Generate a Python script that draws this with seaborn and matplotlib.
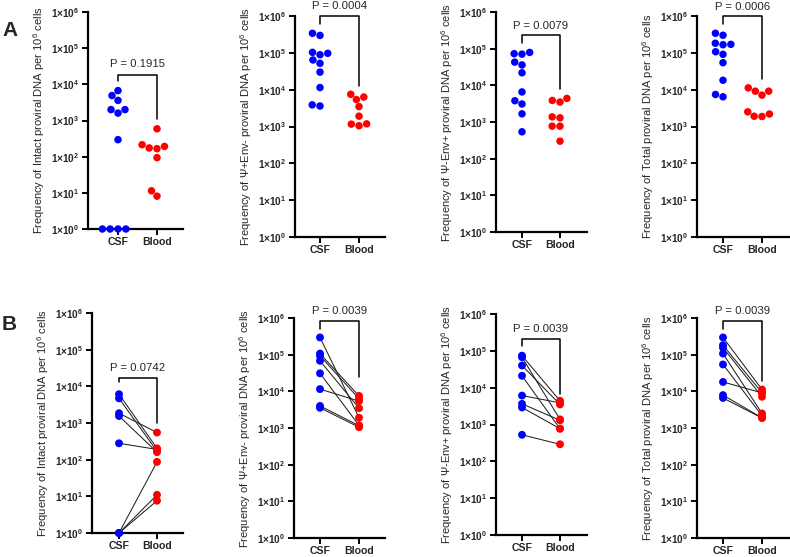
import numpy as np
import pandas as pd
import matplotlib
matplotlib.use("Agg")
import matplotlib.pyplot as plt
import seaborn as sns

sns.set_style("ticks")
plt.rcParams['font.family'] = ['Liberation Sans', 'DejaVu Sans']
plt.rcParams['mathtext.fontset'] = 'custom'
plt.rcParams['mathtext.rm'] = 'Liberation Sans'
plt.rcParams['mathtext.it'] = 'Liberation Sans:italic'
plt.rcParams['mathtext.bf'] = 'Liberation Sans:bold'

# ---------------- data ----------------
groups = ["CSF", "Blood"]
palette = {"CSF": "#0000FF", "Blood": "#FF0000"}
measures = ["Intact", "\u03a8+Env-", "\u03a8-Env+", "Total"]
ytick_exps = [0, 1, 2, 3, 4, 5, 6]

# Row A (unpaired)
a_csf_intact = [6700, 4900, 3600, 2000, 2000, 1600, 295, 1, 1, 1, 1]
a_csf_psi_pos = [339000, 297000, 89000, 97000, 103000, 64000, 52000, 30000, 11400, 3600, 3870]
a_csf_env_pos = [71000, 73000, 79000, 36000, 43000, 22000, 6600, 3800, 3100, 1670, 540]
a_csf_total = [300000, 340000, 166000, 170000, 182000, 91000, 107000, 54000, 18000, 6400, 7400]

a_blood_intact = [590, 214, 174, 166, 192, 94, 11.4, 8.1]
a_blood_psi_pos = [7500, 5400, 6300, 3470, 1910, 1050, 1180, 1160]
a_blood_env_pos = [4400, 3500, 3870, 1380, 1300, 770, 770, 300]
a_blood_total = [9100, 11200, 9100, 7100, 1870, 2500, 1900, 2180]

a_pvals = ["P = 0.1915", "P = 0.0004", "P = 0.0079", "P = 0.0006"]

# Row B (paired)
b_csf_intact = [6100, 4700, 1850, 1550, 280, 1, 1, 1]
b_blood_intact = [204, 170, 550, 160, 190, 87, 11, 7.6]
b_csf_psi_pos = [295000, 107000, 93000, 68000, 31000, 11500, 4000, 3550]
b_blood_psi_pos = [1910, 7500, 6300, 3470, 1180, 5400, 1160, 1050]
b_csf_env_pos = [74000, 67000, 40000, 21000, 6100, 3640, 2900, 525]
b_blood_env_pos = [4400, 1380, 3500, 770, 3870, 1300, 770, 290]
b_csf_total = [295000, 182000, 155000, 107000, 54000, 18000, 7900, 6600]
b_blood_total = [11200, 9100, 7100, 2500, 2180, 9100, 1900, 1870]

b_pvals = ["P = 0.0742", "P = 0.0039", "P = 0.0039", "P = 0.0039"]

a_csf = [a_csf_intact, a_csf_psi_pos, a_csf_env_pos, a_csf_total]
a_blood = [a_blood_intact, a_blood_psi_pos, a_blood_env_pos, a_blood_total]
b_csf = [b_csf_intact, b_csf_psi_pos, b_csf_env_pos, b_csf_total]
b_blood = [b_blood_intact, b_blood_psi_pos, b_blood_env_pos, b_blood_total]

# ---------------- layout (pixels) ----------------
W, H = 790, 557
# left, right, top, bottom, csf_x, blood_x
boxes_a = [(88, 183, 12, 229, 118, 157), (295, 385, 16, 237, 320, 359),
           (496, 587, 12, 232, 522, 560), (697, 790, 16, 237, 723, 762)]
boxes_b = [(92, 183, 313, 533, 119, 157), (294, 385, 318, 538, 320, 359),
           (496, 587, 314, 535, 522, 560), (697, 790, 318, 538, 723, 762)]
# bracket geometry in log10 units: (left leg end, top, right leg end, text y)
brk_a = [(4.09, 4.25, 3.04, 4.55), (5.79, 5.99, 4.10, 6.27),
         (5.15, 5.36, 3.90, 5.63), (5.79, 6.00, 4.28, 6.25)]
brk_b = [(4.12, 4.23, 3.00, 4.49), (5.71, 5.92, 4.40, 6.19),
         (5.14, 5.32, 3.82, 5.59), (5.71, 5.92, 4.29, 6.19)]

fig = plt.figure(figsize=(W / 100, H / 100), dpi=100)


def make_ax(box):
    l, r, t, b, cx, bx = box
    ax = fig.add_axes([l / W, 1 - b / H, (r - l) / W, (b - t) / H])
    ax.set_yscale('log')
    ax.set_ylim(1, 1e6)
    ax.set_xlim((l - cx) / (bx - cx), (r - cx) / (bx - cx))
    return ax


def style_ax(ax, measure):
    ax.set_yscale('log')
    ax.set_ylim(1, 1e6)
    ax.set_yticks([10.0 ** e for e in ytick_exps])
    ax.set_yticklabels([r"$\mathbf{1{\times}10^{%d}}$" % e for e in ytick_exps], fontsize=7.2)
    ax.yaxis.set_minor_locator(matplotlib.ticker.NullLocator())
    ax.set_xticks(range(len(groups)))
    ax.set_xticklabels(groups, fontsize=7.6, fontweight='bold')
    ax.set_xlabel("")
    ax.set_ylabel(f"Frequency of {measure} proviral DNA per 10$^{{6}}$ cells",
                  fontsize=8, labelpad=3)
    for s in ['top', 'right']:
        ax.spines[s].set_visible(False)
    for s in ['left', 'bottom']:
        ax.spines[s].set_linewidth(1.6)
        ax.spines[s].set_color('black')
    ax.tick_params(axis='both', width=1.4, length=4, color='black', pad=2)
    ax.set_facecolor('none')


def bracket(ax, geo, ptxt):
    yl, yt, yr, ty = geo
    ax.plot([0, 0, 1, 1], [10 ** yl, 10 ** yt, 10 ** yt, 10 ** yr],
            color='black', lw=1.1, clip_on=False, zorder=4)
    ax.text(0.5, 10 ** ty, ptxt, ha='center', va='center', fontsize=8.2, clip_on=False)


# Row A
for i in range(4):
    ax = make_ax(boxes_a[i])
    xl = ax.get_xlim()
    df = pd.DataFrame({
        "group": ["CSF"] * len(a_csf[i]) + ["Blood"] * len(a_blood[i]),
        "value": list(a_csf[i]) + list(a_blood[i]),
    })
    sns.swarmplot(data=df, x="group", y="value", hue="group", order=groups,
                  palette=palette, size=5.4, legend=False, ax=ax, log_scale=(False, True),
                  zorder=3, clip_on=False)
    ax.set_xlim(xl)
    style_ax(ax, measures[i])
    bracket(ax, brk_a[i], a_pvals[i])

# Row B
for i in range(4):
    ax = make_ax(boxes_b[i])
    xl = ax.get_xlim()
    n = len(b_csf[i])
    df = pd.DataFrame({
        "pair": list(range(n)) * 2,
        "group": ["CSF"] * n + ["Blood"] * n,
        "pos": [groups.index("CSF")] * n + [groups.index("Blood")] * n,
        "value": list(b_csf[i]) + list(b_blood[i]),
    })
    sns.lineplot(data=df, x="pos", y="value", units="pair", estimator=None,
                 color="#222222", lw=0.75, ax=ax, legend=False, zorder=2)
    sns.scatterplot(data=df, x="pos", y="value", hue="group", palette=palette,
                    s=32, edgecolor='none', linewidth=0, legend=False, ax=ax,
                    zorder=3, clip_on=False)
    ax.set_xlim(xl)
    style_ax(ax, measures[i])
    bracket(ax, brk_b[i], b_pvals[i])

fig.text(2 / W, 1 - 30 / H, "A", fontsize=15, fontweight='bold', va='center', ha='left')
fig.text(2 / W, 1 - 324 / H, "B", fontsize=15, fontweight='bold', va='center', ha='left')

fig.savefig("out.png", dpi=100, facecolor='white')
